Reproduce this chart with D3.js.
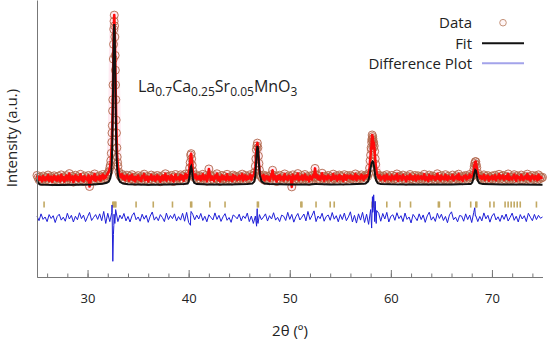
<!DOCTYPE html>
<html>
<head>
<meta charset="utf-8">
<script src="https://cdn.jsdelivr.net/npm/d3@7/dist/d3.min.js"></script>
<style>
  body { margin: 0; background: #fff; }
  text { font-family: "Open Sans", sans-serif; fill: #222; }
</style>
</head>
<body>
<div id="chart"></div>
<script>
// observed counts, one value every 0.1 deg from 25.0 to 75.0
var obsStart = 25, obsStep = 0.1;
var obsCounts = [
  150,138,126,142,131,118,147,135,124,140, // 25
  129,152,121,137,144,116,133,148,127,139,
  122,146,134,119,153,128,141,117,136,149,
  125,138,160,123,132,145,114,139,151,127,
  143,120,135,156,126,140,118,147,131,137,
  124,150,90,119,146,138,127,158,121,142,  // 30
  135,129,148,123,141,155,132,146,138,152,
  160,170,190,230,330,560,940,900,560,300,
  200,168,150,141,156,132,147,125,139,151,
  137,122,145,131,154,126,140,118,143,133,
  149,127,136,120,147,139,157,124,131,144, // 35
  118,141,133,152,126,138,145,121,135,150,
  129,143,116,137,148,125,134,159,122,140,
  146,131,124,150,138,117,142,155,128,136,
  140,125,153,132,147,121,139,158,135,145,
  160,190,260,240,175,150,138,154,129,143, // 40
  132,147,124,139,156,128,135,149,119,141,
  185,153,126,144,130,121,148,136,159,127,
  142,118,135,150,129,145,133,124,156,138,
  126,143,137,120,152,131,146,140,125,135,
  148,129,141,157,123,136,150,127,144,132, // 45
  139,154,128,145,150,165,200,290,325,255,
  180,150,141,133,152,124,139,147,130,143,
  121,138,155,178,128,149,140,117,146,132,
  151,127,136,144,123,158,131,139,126,148,
  135,142,88,153,138,129,146,133,160,124,  // 50
  140,131,149,125,137,155,128,143,134,119,
  147,136,128,151,142,188,139,153,130,145,
  126,138,162,133,121,146,140,129,150,137,
  143,124,135,157,131,139,148,122,136,152,
  129,145,138,120,154,133,127,149,141,136, // 55
  150,132,144,128,139,158,125,147,135,142,
  131,153,140,126,148,137,150,145,160,190,
  260,330,360,330,280,210,165,148,138,150,
  127,141,135,148,122,139,154,130,143,136,
  124,150,137,129,145,133,158,121,140,147, // 60
  138,126,152,134,141,119,146,137,129,155,
  132,144,127,139,150,123,136,148,131,142,
  145,130,137,156,125,141,134,120,152,139,
  128,147,135,143,126,138,159,131,144,123,
  149,133,140,128,154,136,125,146,138,131, // 65
  137,152,124,141,135,148,130,157,127,143,
  134,121,146,139,150,129,142,136,155,140,
  145,152,180,215,225,192,162,148,137,146,
  131,139,153,126,144,135,149,122,140,133,
  147,128,136,151,124,142,138,156,130,145, // 70
  135,150,127,139,146,132,158,125,141,137,
  129,143,154,134,121,148,136,140,127,152,
  141,126,138,145,133,157,130,144,122,139,
  150,135,128,147,139,124,153,131,142,136,
  140
];

// extra observed points on the peak flanks
var obsExtra = [
  [32.25,205],[32.35,270],[32.42,380],[32.45,420],[32.48,500],[32.52,640],[32.55,780],
  [32.57,860],[32.62,985],[32.64,1018],[32.67,960],[32.73,800],[32.75,720],[32.77,640],
  [32.83,450],[32.86,380],[32.93,250],[32.97,220],
  [40.15,220],[40.25,268],[40.35,205],
  [46.65,240],[46.75,310],[46.85,300],[46.95,215],
  [57.95,230],[58.05,300],[58.08,290],[58.12,345],[58.15,369],[58.18,340],[58.22,350],
  [58.25,320],[58.28,300],[58.35,310],[58.45,240],
  [68.25,200],[68.35,224],[68.45,208]
];

// calculated profile
var fitCurve = [
  [25.0,128],[25.1,110],[25.3,101],[25.8,99],[27,98],[29,99],[30.5,101],[31.5,105],
  [31.9,110],[32.1,117],[32.25,135],[32.35,165],[32.4,220],[32.45,330],[32.5,520],
  [32.55,760],[32.6,930],[32.64,970],[32.68,930],[32.73,760],[32.78,540],[32.83,350],
  [32.88,240],[32.95,170],[33.05,135],[33.2,115],[33.5,106],[34,102],[36,100],[38,101],
  [39.5,103],[39.9,106],[40.0,115],[40.1,150],[40.2,195],[40.25,200],[40.32,180],
  [40.42,130],[40.55,110],[40.8,103],[42,101],[44,101],[45.8,103],[46.3,106],[46.5,118],
  [46.6,150],[46.7,245],[46.8,310],[46.86,295],[46.95,215],[47.05,150],[47.2,118],
  [47.5,106],[48,103],[50,101],[52,101],[52.5,104],[52.7,103],[54,101],[56,102],
  [57.3,105],[57.5,106],[57.75,118],[57.9,150],[58.0,190],[58.1,218],[58.2,226],
  [58.27,222],[58.35,195],[58.45,150],[58.55,122],[58.7,108],[59,104],[60,102],[62,101],
  [64,101],[66,101],[67.6,103],[67.9,104],[68.05,112],[68.15,130],[68.25,160],[68.35,180],
  [68.42,176],[68.5,150],[68.6,122],[68.75,108],[69.1,103],[71,101],[73,101],[75,100]
];

// difference (obs - calc), one value every 0.2 deg
var diffStart = 25, diffStep = 0.2;
var diffCounts = [
  10,-15,22,-8,5,-20,18,-3,12,-25,      // 25
  8,20,-12,4,-18,25,-6,14,-22,9,        // 27
  -10,28,-4,15,-20,6,30,-14,3,18,       // 29
  -8,22,-15,35,-30,25,-20,30,-40,40,    // 31
  -20,15,-5,24,-16,8,-22,12,28,-10,     // 33
  5,-18,20,-7,14,-24,10,32,-12,6,       // 35
  -15,18,2,-20,26,-9,13,-4,22,-17,      // 37
  7,-12,25,-18,30,-25,12,20,-10,15,     // 39
  -6,24,-14,9,-21,17,3,-11,27,-8,       // 41
  14,-19,6,23,-13,2,-24,16,8,-5,        // 43
  20,-16,11,-3,26,-20,10,-30,10,-15,    // 45
  18,-10,5,22,-17,12,-6,28,-12,3,       // 47
  -20,15,9,-14,30,-8,19,-23,6,24,       // 49
  -11,4,21,-16,35,-9,13,38,-20,10,      // 51
  -4,25,-18,7,16,-13,29,-7,12,-21,      // 53
  18,-9,26,-15,5,33,-22,14,-28,22,      // 55
  -12,30,-25,20,-35,45,30,-20,40,25,    // 57
  -18,24,-6,30,-22,9,17,-13,28,-4,      // 59
  12,-20,26,-8,5,-27,19,3,-15,22,       // 61
  -9,16,-24,11,31,-12,6,-19,25,-3,      // 63
  20,-14,8,-26,17,33,-10,4,-21,13,      // 65
  10,-18,22,-9,15,-25,30,12,-20,8,      // 67
  -16,27,-5,14,-23,10,24,-11,6,-19,     // 69
  15,-8,21,-17,3,26,-13,9,-22,18,       // 71
  -6,12,-20,25,4,-15,19,-9,14,-2,       // 73
  5
];
var diffExtra = [
  [32.42,70],[32.5,-235],[32.56,-90],[32.62,20],[32.7,-30],[32.78,45],
  [40.18,-40],[40.24,35],
  [46.72,-45],[46.78,50],[46.86,-30],
  [58.1,-55],[58.18,115],[58.24,40],[58.3,125],[58.36,60],[58.45,90],[58.55,-30],
  [68.3,55],[68.36,10]
];

// Bragg reflection positions
var braggPos = [25.7,32.5,32.6,32.7,32.8,34.8,36.5,38.4,40.2,40.3,42.1,43.6,46.8,46.9,
  51.1,51.2,52.6,54.0,54.4,58.15,58.3,59.6,60.9,61.95,64.7,64.8,65.85,67.9,68.4,68.5,
  69.8,70.2,71.3,71.6,71.9,72.2,72.5,72.8,74.4];

var xTicks = [30, 40, 50, 60, 70];
var xMinorTicks = d3.range(26, 75, 2);
var diffOffset = -80;
var legendNames = ["Data", "Fit", "Difference Plot"];

// build point lists
var obs = obsCounts.map(function(v, i){ return [+(obsStart + i*obsStep).toFixed(2), v]; })
  .concat(obsExtra).sort(function(a, b){ return a[0] - b[0]; });
var diff = diffCounts.map(function(v, i){ return [+(diffStart + i*diffStep).toFixed(2), v]; })
  .concat(diffExtra).sort(function(a, b){ return a[0] - b[0]; });

var width = 550, height = 341;
var svg = d3.select("#chart").append("svg")
  .attr("width", width).attr("height", height);

var x = d3.scaleLinear().domain([25, 75]).range([37, 542.5]);
var y = d3.scaleLinear().domain([-400, 1100]).range([277, 0]);

var line = d3.line().x(function(d){ return x(d[0]); }).y(function(d){ return y(d[1]); });

// pale halo round the data
svg.append("path").datum(obs)
  .attr("d", line).attr("fill", "none")
  .attr("stroke", "#ffeaf2").attr("stroke-width", 9)
  .attr("stroke-linejoin", "round").attr("stroke-linecap", "round");

// data circles
svg.append("g").selectAll("circle").data(obs).enter().append("circle")
  .attr("cx", function(d){ return x(d[0]); })
  .attr("cy", function(d){ return y(d[1]); })
  .attr("r", 4)
  .attr("fill", "none")
  .attr("stroke", "#b06a4c")
  .attr("stroke-width", 0.9);

// red trace through data
svg.append("path").datum(obs)
  .attr("d", line).attr("fill", "none")
  .attr("stroke", "#ff0a0a").attr("stroke-width", 2.6)
  .attr("stroke-linejoin", "round");

// fit
svg.append("path").datum(fitCurve)
  .attr("d", line).attr("fill", "none")
  .attr("stroke", "#111").attr("stroke-width", 2);

// Bragg ticks
svg.append("g").selectAll("line").data(braggPos).enter().append("line")
  .attr("x1", function(d){ return x(d); }).attr("x2", function(d){ return x(d); })
  .attr("y1", y(9)).attr("y2", y(-24))
  .attr("stroke", "#c2a964").attr("stroke-width", 1.6);

// difference
svg.append("path").datum(diff)
  .attr("d", d3.line().x(function(d){ return x(d[0]); }).y(function(d){ return y(d[1] + diffOffset); }))
  .attr("fill", "none").attr("stroke", "#1f1fd8").attr("stroke-width", 1);

// axes
var xAxis = svg.append("g").attr("transform", "translate(0,277)")
  .call(d3.axisBottom(x).tickValues(xTicks).tickSize(-7).tickSizeOuter(0).tickPadding(17));
svg.append("g").attr("transform", "translate(0,277)")
  .call(d3.axisBottom(x).tickValues(xMinorTicks).tickSize(-3.5).tickSizeOuter(0).tickFormat(""));
svg.append("g").attr("transform", "translate(37,0)")
  .call(d3.axisLeft(y).tickValues([]).tickSizeOuter(0));
svg.selectAll(".domain, .tick line").attr("stroke", "#777");
xAxis.selectAll("text").style("font-size", "13px").style("font-family", "'Open Sans', sans-serif").attr("fill", "#222");

svg.append("text").attr("x", 290).attr("y", 336).attr("text-anchor", "middle")
  .style("font-size", "15px").text("2θ (º)");
svg.append("text").attr("transform", "translate(17,138) rotate(-90)").attr("text-anchor", "middle")
  .style("font-size", "15px").text("Intensity (a.u.)");

// compound label
var title = svg.append("text").attr("x", 138).attr("y", 91.5).style("font-size", "16px");
[["La",0],["0.7",1],["Ca",0],["0.25",1],["Sr",0],["0.05",1],["MnO",0],["3",1]].forEach(function(p){
  var t = title.append("tspan").text(p[0]);
  if (p[1]) t.style("font-size", "12px").attr("dy", 4);
  else t.attr("dy", -4);
});
title.select("tspan").attr("dy", 0);

// legend
var legY = [22.7, 43.3, 63.3];
var leg = svg.append("g");
legendNames.forEach(function(name, i){
  leg.append("text").attr("x", 472).attr("y", legY[i]).attr("dy", "0.36em")
    .attr("text-anchor", "end").style("font-size", "15px").text(name);
});
leg.append("circle").attr("cx", 503).attr("cy", legY[0]).attr("r", 3.3)
  .attr("fill", "#fff6f6").attr("stroke", "#c4937a").attr("stroke-width", 1);
leg.append("line").attr("x1", 482).attr("x2", 524).attr("y1", legY[1]).attr("y2", legY[1])
  .attr("stroke", "#111").attr("stroke-width", 2);
leg.append("line").attr("x1", 482).attr("x2", 524).attr("y1", legY[2]).attr("y2", legY[2])
  .attr("stroke", "#a3a3ea").attr("stroke-width", 2);
</script>
</body>
</html>
